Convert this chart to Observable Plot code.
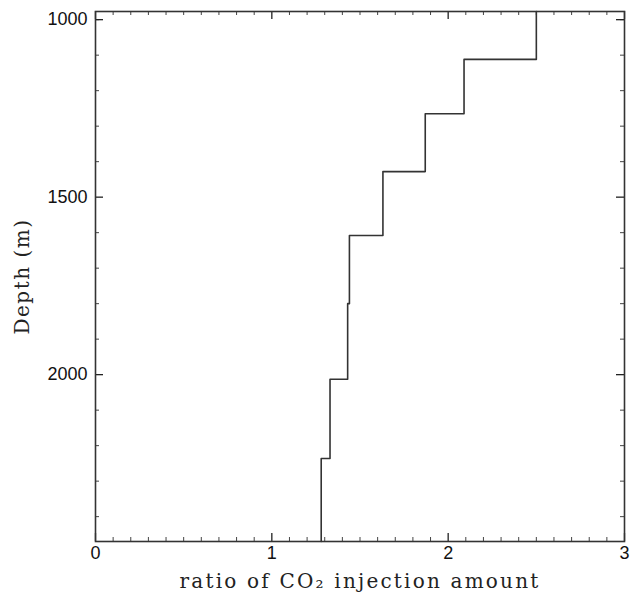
<!DOCTYPE html>
<html>
<head>
<meta charset="utf-8">
<script src="https://cdn.jsdelivr.net/npm/d3@7"></script>
<script src="https://cdn.jsdelivr.net/npm/@observablehq/plot@0.6"></script>
<style>
  html, body { margin: 0; padding: 0; background: #fff; }
</style>
</head>
<body>
<div id="chart"></div>
<script>
// Depth intervals (m) and CO2 injection ratio for each interval
const depthTop    = [977, 1112, 1265, 1428, 1608, 1800, 2013, 2236];
const depthBottom = [1112, 1265, 1428, 1608, 1800, 2013, 2236, 2470];
const ratio       = [2.5, 2.09, 1.87, 1.63, 1.44, 1.43, 1.33, 1.28];

const xMajorTicks = [0, 1, 2, 3];
const xMinorTicks = d3.range(0, 30).map(i => i / 10).filter(v => !Number.isInteger(v));
const yMajorTicks = [1000, 1500, 2000];
const yMinorTicks = [1000, 1100, 1200, 1300, 1400, 1600, 1700, 1800, 1900, 2100, 2200, 2300, 2400];

const xTitle = "ratio of CO₂ injection amount";
const yTitle = "Depth (m)";

// Build step profile points
const profile = [];
ratio.forEach((v, i) => {
  profile.push({x: v, y: depthTop[i]});
  profile.push({x: v, y: depthBottom[i]});
});

const W = 630, H = 600;
const mt = 11, mb = 59, ml = 95, mr = 6;
const ph = H - mt - mb, pw = W - ml - mr;
const majorLen = 8, minorLen = 4;

const chart = Plot.plot({
  width: W,
  height: H,
  marginTop: mt,
  marginBottom: mb,
  marginLeft: ml,
  marginRight: mr,
  style: {background: "#fff", color: "#222"},
  x: {domain: [0, 3]},
  y: {domain: [977, 2470], reverse: true},
  marks: [
    // minor/major ticks, drawn inward on all four sides
    Plot.ruleX(xMinorTicks, {x: d => d, insetTop: ph - minorLen, stroke: "#444", strokeWidth: 1}),
    Plot.ruleX(xMinorTicks, {x: d => d, insetBottom: ph - minorLen, stroke: "#444", strokeWidth: 1}),
    Plot.ruleX(xMajorTicks, {x: d => d, insetTop: ph - majorLen, stroke: "#222", strokeWidth: 1.3}),
    Plot.ruleX(xMajorTicks, {x: d => d, insetBottom: ph - majorLen, stroke: "#222", strokeWidth: 1.3}),
    Plot.ruleY(yMinorTicks, {y: d => d, insetRight: pw - minorLen, stroke: "#444", strokeWidth: 1}),
    Plot.ruleY(yMinorTicks, {y: d => d, insetLeft: pw - minorLen, stroke: "#444", strokeWidth: 1}),
    Plot.ruleY(yMajorTicks, {y: d => d, insetRight: pw - majorLen, stroke: "#222", strokeWidth: 1.3}),
    Plot.ruleY(yMajorTicks, {y: d => d, insetLeft: pw - majorLen, stroke: "#222", strokeWidth: 1.3}),
    // tick labels
    Plot.axisX(xMajorTicks, {tickSize: 0, tickPadding: 5, fontSize: 18, tickFormat: d => String(d), fontFamily: "Liberation Sans, Arial, sans-serif", label: null, fill: "#111"}),
    Plot.axisY(yMajorTicks, {tickSize: 0, tickPadding: 8, fontSize: 18, tickFormat: d => String(d), fontFamily: "Liberation Sans, Arial, sans-serif", label: null, fill: "#111"}),
    // profile
    Plot.line(profile, {x: "x", y: "y", stroke: "#333", strokeWidth: 1.6}),
    Plot.frame({stroke: "#333", strokeWidth: 1.6}),
    // axis titles
    Plot.text([xTitle], {text: d => d, frameAnchor: "bottom", dy: 46, fontSize: 20, fontFamily: "DejaVu Serif, serif", fill: "#222", className: "xtitle"}),
    Plot.text([yTitle], {text: d => d, frameAnchor: "left", textAnchor: "middle", dx: -73, dy: 0, rotate: -90, fontSize: 20, fontFamily: "DejaVu Serif, serif", fill: "#222", className: "ytitle"})
  ]
});

d3.select(chart).selectAll(".xtitle text").attr("letter-spacing", "2.2px");
d3.select(chart).selectAll(".ytitle text").attr("letter-spacing", "1.5px");
document.getElementById("chart").appendChild(chart);
</script>
</body>
</html>
